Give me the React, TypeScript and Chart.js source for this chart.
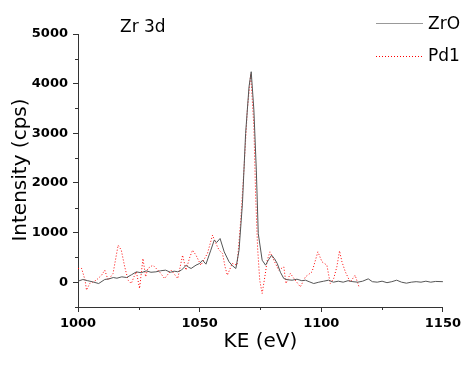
import React, { useEffect, useRef } from "react";
import { Chart, registerables } from "chart.js";

Chart.register(...registerables);

const zroEnergy = [
  1000, 1002, 1004, 1006, 1008.5, 1011, 1013, 1014.5, 1016, 1018, 1020, 1022, 1024, 1026, 1028, 1030,
  1032, 1034, 1036, 1038, 1039.5, 1041, 1042.5, 1044.5, 1045.5, 1046.5, 1048.5, 1050, 1051.2, 1052.6,
  1054.6, 1056, 1057, 1058.4, 1060.1, 1062.1, 1063.5, 1064.9, 1066.2, 1067.6, 1068.9, 1070.3, 1071.2,
  1072.3, 1073.3, 1074.1, 1075.7, 1077.1, 1078.3, 1079.6, 1080.8, 1081.9, 1083.2, 1084.6, 1086, 1088,
  1090, 1092, 1093.5, 1095, 1096.9, 1099, 1101, 1103, 1105, 1107, 1109, 1111, 1113, 1115, 1117, 1119.3,
  1121, 1123, 1125, 1127, 1129, 1131, 1133, 1135, 1137, 1139, 1141, 1143, 1145, 1147, 1150,
];
const zroIntensity = [
  20, 54, 30, 7, -27, 54, 70, 94, 80, 108, 94, 150, 208, 190, 228, 200,
  208, 230, 242, 200, 222, 210, 242, 343, 300, 276, 343, 377, 443, 363,
  645, 847, 800, 880, 611, 410, 330, 276, 645, 1586, 2997, 3937, 4240,
  3467, 2258, 981, 443, 343, 450, 544, 470, 377, 200, 74, 50, 40,
  60, 30, 40, 10, -27, 0, 20, 40, 0, 20, 0, 30, 10, 0, 20, 67,
  10, 0, 20, -10, 10, 40, 0, -20, 0, 10, 0, 20, 0, 15, 10,
];

const pdEnergy = [
  1000, 1001.5, 1002.9, 1003.5, 1004.8, 1006, 1007.5, 1009.7, 1011, 1012.4, 1014.4, 1016.5, 1017.8,
  1019.2, 1020.6, 1021.9, 1023, 1024, 1025.3, 1026.7, 1027.8, 1028.7, 1030.8, 1033.5, 1035.6, 1038.3,
  1041, 1043, 1044.4, 1046, 1047.1, 1048.5, 1050.5, 1053.2, 1055.3, 1056.7, 1058, 1059.4, 1060.5,
  1061.4, 1063.4, 1065.4, 1066.9, 1068.2, 1069.6, 1071, 1072.3, 1073, 1073.8, 1074.7, 1075.7, 1076.8,
  1077.8, 1078.9, 1080.5, 1082.5, 1084.6, 1085.5, 1087.3, 1089.3, 1091.4, 1093.5, 1096.2, 1098.6,
  1100.3, 1102.3, 1103.7, 1105.1, 1106.4, 1107.5, 1108.5, 1109.9, 1111.9, 1113.9, 1115.6,
];
const pdIntensity = [
  276, 276, 40, -161, -27, 0, 40, 141, 242, 40, 175, 746, 645,
  309, 40, -27, 108, 208, -127, 477, 108, 276, 343, 208, 74, 242,
  74, 544, 242, 511, 645, 544, 343, 578, 947, 779, 645, 578, 300,
  141, 377, 343, 1250, 2258, 3467, 4200, 3131, 1780, 712, 40, -228, 108,
  443, 611, 443, 242, 309, -27, 175, 40, -94, 108, 208, 611,
  410, 343, -27, 74, 309, 631, 410, 208, 0, 141, -107,
];

const seriesNames = ["ZrO", "Pd1"];
const panelTitle = "Zr 3d";
const xTitle = "KE (eV)";
const yTitle = "Intensity (cps)";
const xTicks = [1000, 1050, 1100, 1150];
const yTicks = [0, 1000, 2000, 3000, 4000, 5000];

const FONT = "'DejaVu Sans', sans-serif";

const decorPlugin = {
  id: "decor",
  afterDraw(chart: any) {
    const ctx = chart.ctx;
    const xs = chart.scales.x;
    const ys = chart.scales.y;
    const area = chart.chartArea;
    ctx.save();
    // minor ticks
    ctx.strokeStyle = "#333";
    ctx.lineWidth = 1;
    ctx.beginPath();
    for (let v = -500; v <= 5000; v += 1000) {
      const y = Math.round(ys.getPixelForValue(v)) + 0.5;
      ctx.moveTo(area.left - 3, y);
      ctx.lineTo(area.left, y);
    }
    for (let v = 1025; v <= 1150; v += 50) {
      const x = Math.round(xs.getPixelForValue(v)) + 0.5;
      ctx.moveTo(x, area.bottom);
      ctx.lineTo(x, area.bottom + 3);
    }
    ctx.stroke();

    // titles
    ctx.fillStyle = "#000";
    ctx.font = `20px ${FONT}`;
    ctx.textAlign = "center";
    ctx.textBaseline = "alphabetic";
    ctx.fillText(xTitle, (area.left + area.right) / 2, 347);
    ctx.save();
    ctx.translate(26, 170);
    ctx.rotate(-Math.PI / 2);
    ctx.fillText(yTitle, 0, 0);
    ctx.restore();

    ctx.font = `17px ${FONT}`;
    ctx.textAlign = "left";
    ctx.fillText(panelTitle, 120, 32);

    // legend
    ctx.font = `17px ${FONT}`;
    ctx.fillText(seriesNames[0], 428, 28.5);
    ctx.fillText(seriesNames[1], 428, 60.5);
    ctx.strokeStyle = "#999";
    ctx.beginPath();
    ctx.moveTo(376, 23.5);
    ctx.lineTo(423, 23.5);
    ctx.stroke();
    ctx.strokeStyle = "#ff0000";
    ctx.setLineDash([1, 2]);
    ctx.beginPath();
    ctx.moveTo(376, 56.5);
    ctx.lineTo(423, 56.5);
    ctx.stroke();
    ctx.restore();
  },
};

export default function App() {
  const ref = useRef<HTMLCanvasElement>(null);
  useEffect(() => {
    document.body.style.margin = "0";
    const chart = new Chart(ref.current as HTMLCanvasElement, {
      type: "line",
      data: {
        datasets: [
          {
            label: seriesNames[0],
            data: zroEnergy.map((x, i) => ({ x, y: zroIntensity[i] })),
            borderColor: "#555",
            borderWidth: 1,
            pointRadius: 0,
            tension: 0,
          },
          {
            label: seriesNames[1],
            data: pdEnergy.map((x, i) => ({ x, y: pdIntensity[i] })),
            borderColor: "#ff0000",
            borderWidth: 1,
            borderDash: [1, 2],
            pointRadius: 0,
            tension: 0,
          },
        ],
      },
      options: {
        animation: false,
        responsive: true,
        maintainAspectRatio: false,
        layout: { padding: { top: 34, right: 20, left: 0, bottom: 0 } },
        plugins: { legend: { display: false }, tooltip: { enabled: false } },
        scales: {
          x: {
            type: "linear",
            min: 1000,
            max: 1150,
            afterFit: (s: any) => { s.height = 58; },
            afterBuildTicks: (s: any) => { s.ticks = xTicks.map((v) => ({ value: v })); },
            ticks: {
              color: "#000",
              font: { family: FONT, size: 13, weight: "bold" },
              padding: 4,
              maxRotation: 0,
              callback: (v: any) => String(v),
            },
            grid: { display: true, drawOnChartArea: false, drawTicks: true, tickLength: 5, color: "#333" },
            border: { display: true, color: "#333" },
          },
          y: {
            type: "linear",
            min: -500,
            max: 5000,
            afterFit: (s: any) => { s.width = 78; },
            afterBuildTicks: (s: any) => { s.ticks = yTicks.map((v) => ({ value: v })); },
            ticks: {
              color: "#000",
              font: { family: FONT, size: 13, weight: "bold" },
              padding: 5,
              callback: (v: any) => String(v),
            },
            grid: { display: true, drawOnChartArea: false, drawTicks: true, tickLength: 5, color: "#333" },
            border: { display: true, color: "#333" },
          },
        },
      },
      plugins: [decorPlugin],
    });
    return () => chart.destroy();
  }, []);
  return (
    <div style={{ position: "fixed", left: 0, top: 0, width: 465, height: 365 }}>
      <canvas ref={ref} />
    </div>
  );
}
